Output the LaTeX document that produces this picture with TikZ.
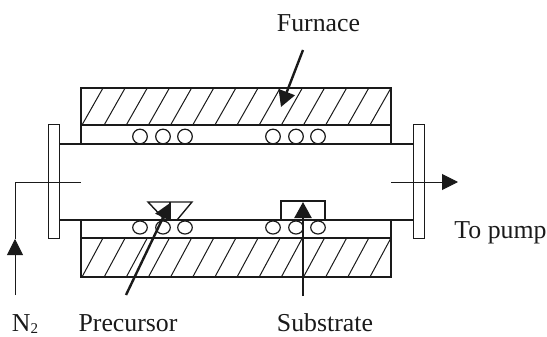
\documentclass[tikz,border=0pt]{standalone}
\usepackage{fontspec}
\setmainfont{Liberation Serif}
\usetikzlibrary{arrows.meta}
\definecolor{ink}{HTML}{1A1A1A}
\tikzset{
  wall/.style={draw=ink,line width=1.6pt},
  hatch/.style={draw=ink,line width=1pt},
  thin line/.style={draw=ink,line width=1pt},
  coil/.style={draw=ink,line width=1.2pt},
  pointer/.style={draw=ink,line width=2.4pt,-{Triangle[length=16pt,width=17pt]}},
  flow/.style={draw=ink,line width=1pt,-{Triangle[length=16pt,width=16pt]}},
  label/.style={font=\fontsize{25.8}{26}\selectfont,text=ink,inner sep=0pt,anchor=base}
}
\begin{document}
\begin{tikzpicture}[x=1pt,y=-1pt]
\useasboundingbox (0,0) rectangle (547,337);
% furnace
\draw[wall] (81,144) -- (81,88) -- (391,88) -- (391,144);
\draw[wall] (81,125) -- (391,125);
\draw[wall] (81,220) -- (81,277) -- (391,277) -- (391,220);
\draw[wall] (81,238) -- (391,238);
\foreach \k in {0,...,13} {
  \draw[hatch] ({82+22.15*\k},125) -- ({103+22.15*\k},88);
  \draw[hatch] ({82+22.15*\k},277) -- ({103+22.15*\k},238);
}
% tube
\draw[wall] (59,144) -- (413,144);
\draw[wall] (59,220) -- (413,220);
\draw[thin line] (48,125) rectangle (59,238);
\draw[thin line] (413,125) rectangle (424,238);
% coils
\foreach \x in {140,163,185,273,296,318} {
  \draw[coil] (\x,136.5) circle[radius=7.3];
  \draw[coil] (\x,227.5) ellipse[x radius=7.3,y radius=6.5];
}
% precursor boat
\draw[wall,line width=1.4pt] (165,220) -- (148,202) -- (192,202) -- (177,220);
\draw[wall,line width=1.4pt] (170,202) -- (170,220);
% substrate holder
\draw[wall,line width=1.4pt] (281,220) -- (281,201) -- (325,201) -- (325,220);
% labels
\node[label] (furnace) at (318.5,32) {Furnace};
\node[label] (pump) at (500.5,238) {To pump};
\node[label] (n2) at (25,331.2) {N\raisebox{-2.5pt}{\fontsize{15}{15}\selectfont 2}};
\node[label] (precursor) at (128,331.2) {Precursor};
\node[label] (substrate) at (325,331.2) {Substrate};
% connector ends
\coordinate (furnaceTail) at (303,50);
\coordinate (furnaceTip) at (281,107);
\coordinate (precursorTail) at (126,295);
\coordinate (precursorTip) at (170,203);
\coordinate (substrateTail) at (303,296);
\coordinate (substrateTip) at (303,202);
\coordinate (inTail) at (15,295);
\coordinate (inMid) at (15,239);
\coordinate (inBend) at (15,182);
\coordinate (inEnd) at (81,182);
\coordinate (outStart) at (391,182);
\coordinate (outTip) at (458,182);
% arrows
\draw[pointer] (furnaceTail) -- (furnaceTip);
\draw[pointer] (precursorTail) -- (precursorTip);
\draw[pointer] (substrateTail) -- (substrateTip);
\draw[flow] (inTail) -- (inMid);
\draw[thin line] (inMid) -- (inBend) -- (inEnd);
\draw[flow] (outStart) -- (outTip);
\end{tikzpicture}
\end{document}
